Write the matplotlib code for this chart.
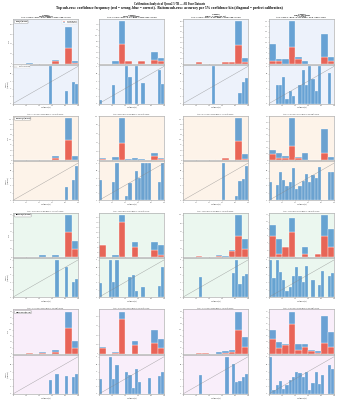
import numpy as np
import matplotlib
matplotlib.use("Agg")
import matplotlib.pyplot as plt

# ---------------- data ----------------
datasets = ["MedQA (n=200)", "MedMCQA (n=270)", "PubMedQA (n=200)", "MMLU-Med (n=218)"]
configs = ["Config 1:\nSingle Specialist",
           "Config 2:\nSingle + Two-Phase",
           "Config 3:\nMulti + 3-Agent (No JF)",
           "Config 4:\nMulti + Two-Phase\n+ 3 Agents"]
stats_medqa = ["ACC = 61.0% | ECE = 0.247 | Brier = 0.291 | conf = 83.1%",
               "ACC = 55.0% | ECE = 0.112 | Brier = 0.254 | conf = 50.2%",
               "ACC = 54.0% | ECE = 0.322 | Brier = 0.338 | conf = 85.6%",
               "ACC = 60.0% | ECE = 0.129 | Brier = 0.241 | conf = 48.4%"]
stats_medmcqa = ["ACC = 55.2% | ECE = 0.290 | Brier = 0.312 | conf = 84.3%",
                 "ACC = 65.0% | ECE = 0.126 | Brier = 0.236 | conf = 48.9%",
                 "ACC = 56.1% | ECE = 0.306 | Brier = 0.317 | conf = 86.0%",
                 "ACC = 62.2% | ECE = 0.117 | Brier = 0.229 | conf = 49.7%"]
stats_pubmedqa = ["ACC = 47.0% | ECE = 0.386 | Brier = 0.401 | conf = 86.2%",
                  "ACC = 32.0% | ECE = 0.241 | Brier = 0.297 | conf = 47.5%",
                  "ACC = 48.0% | ECE = 0.374 | Brier = 0.389 | conf = 84.9%",
                  "ACC = 41.0% | ECE = 0.153 | Brier = 0.268 | conf = 47.0%"]
stats_mmlu = ["ACC = 41.3% | ECE = 0.441 | Brier = 0.436 | conf = 85.4%",
              "ACC = 34.4% | ECE = 0.215 | Brier = 0.302 | conf = 51.2%",
              "ACC = 46.3% | ECE = 0.380 | Brier = 0.391 | conf = 84.0%",
              "ACC = 42.2% | ECE = 0.148 | Brier = 0.262 | conf = 45.3%"]

hist_bins = [0, 10, 20, 30, 40, 50, 60, 70, 80, 90]
acc_bins = [0, 5, 10, 15, 20, 25, 30, 35, 40, 45, 50, 55, 60, 65, 70, 75, 80, 85, 90, 95]

# wrong / correct counts per 10% confidence bin, one list per config
wrong_medqa = [[0, 0, 0, 0, 0, 0, 5, 0, 32, 1],
               [0, 0, 0, 70, 10, 0, 10, 0, 11, 9],
               [0, 0, 3, 0, 0, 0, 2, 3, 35, 3],
               [1, 1, 0, 8, 2, 0, 0, 0, 3, 1]]
correct_medqa = [[0, 0, 2, 0, 0, 0, 2, 0, 42, 5],
                 [0, 0, 8, 81, 0, 0, 0, 0, 30, 10],
                 [0, 0, 0, 0, 0, 0, 0, 0, 45, 7],
                 [8, 1, 2, 12, 1, 1, 0, 0, 11, 2]]
wrong_medmcqa = [[0, 0, 0, 0, 0, 0, 13, 0, 97, 0],
                 [4, 0, 0, 40, 0, 0, 0, 0, 9, 2],
                 [0, 0, 0, 0, 0, 0, 11, 3, 92, 4],
                 [10, 4, 4, 23, 4, 1, 1, 0, 12, 1]]
correct_medmcqa = [[0, 0, 0, 0, 0, 0, 6, 0, 109, 19],
                   [2, 0, 8, 56, 2, 6, 2, 0, 8, 4],
                   [0, 0, 2, 0, 0, 0, 0, 0, 114, 26],
                   [6, 8, 3, 44, 2, 11, 0, 0, 37, 5]]
wrong_pubmedqa = [[0, 0, 0, 0, 0, 0, 0, 0, 30, 9],
                  [5, 0, 0, 14, 0, 4, 0, 0, 3, 1],
                  [0, 0, 2, 0, 0, 3, 0, 14, 50, 19],
                  [6, 1, 3, 7, 0, 1, 0, 1, 6, 3]]
correct_pubmedqa = [[0, 0, 0, 0, 2, 0, 3, 0, 20, 10],
                    [0, 0, 1, 3, 0, 2, 0, 0, 3, 4],
                    [0, 0, 0, 0, 0, 2, 2, 2, 50, 23],
                    [3, 4, 0, 4, 0, 2, 0, 0, 6, 5]]
wrong_mmlu = [[0, 0, 4, 0, 4, 0, 7, 0, 109, 24],
              [6, 0, 1, 37, 0, 9, 0, 0, 12, 6],
              [0, 0, 3, 3, 0, 0, 5, 7, 100, 29],
              [12, 5, 7, 25, 3, 6, 2, 1, 9, 6]]
correct_mmlu = [[0, 0, 0, 0, 3, 0, 8, 0, 68, 28],
                [1, 0, 1, 8, 0, 5, 0, 0, 13, 10],
                [0, 0, 0, 0, 0, 7, 6, 8, 75, 40],
                [8, 5, 1, 10, 5, 2, 1, 1, 22, 12]]

# accuracy per 5% confidence bin (0 = empty bin)
acc_medqa = [[0, 0, 0, 0, 0, 0, 0, 0, 0, 0, 0, 1.0, 0, 0, 0, 0, 0.35, 0, 0.57, 0.52],
             [0.10, 0, 0, 0, 0.49, 0, 0, 0, 1.0, 0.71, 0, 1.0, 0, 0.56, 0, 0, 0, 0, 0.91, 0.53],
             [0, 0, 0, 0, 0, 0, 0, 0, 0, 1.0, 0, 0, 0, 0, 0, 0, 0, 0.28, 0.59, 0.69],
             [0, 0, 0.50, 0.50, 0.72, 0.12, 0.34, 0.21, 0, 0.50, 0.91, 0.50, 1.0, 0.67, 0.34, 1.0, 0, 0, 0.83, 0]]
acc_medmcqa = [[0, 0, 0, 0, 0, 0, 0, 0, 0, 0, 0, 0, 0, 0, 0, 0, 0.35, 0, 0.54, 0.93],
               [0.54, 0, 0, 0, 0.50, 1.0, 0, 0, 0.12, 0.46, 0, 0.79, 0.60, 1.0, 1.0, 1.0, 0, 0, 0.50, 1.0],
               [0, 0, 0, 0, 0, 0, 0, 0, 0, 0, 0, 0, 1.0, 0, 0, 0, 0.12, 0.52, 0.57, 0.93],
               [0.50, 0, 0.41, 0.76, 0.54, 0.38, 0.48, 0.86, 0.31, 0.38, 0.52, 0.70, 0.48, 0.67, 0.60, 0.90, 0, 0, 0.76, 0.76]]
acc_pubmedqa = [[0, 0, 0, 0, 0, 0, 0, 0, 0, 0, 0, 0, 0, 1.0, 0, 0, 0.80, 0, 0.42, 0.50],
                [0.39, 0, 0, 1.0, 0.42, 1.0, 0, 0, 0, 0.53, 0.60, 0.17, 0, 0.28, 0, 0, 0, 0, 0.30, 0.80],
                [0, 0, 0, 0, 0, 0.53, 0, 0, 0, 0, 0, 0, 0, 0, 0, 0.66, 1.0, 0.36, 0.56, 0.61],
                [1.0, 0.52, 1.0, 0.67, 0.47, 0.16, 0.28, 0.58, 0.80, 0.56, 0.42, 0.84, 0, 0.45, 0, 0.33, 0.70, 0, 0.56, 0.64]]
acc_mmlu = [[0, 0, 0, 0, 0, 0, 0, 0, 0, 0, 0, 0.37, 0, 0.53, 0, 0, 0.48, 0, 0.46, 0.53],
            [0.40, 0, 0, 1.0, 0.40, 0.77, 0, 0, 0.60, 0.50, 0.17, 0.67, 0.33, 0, 0, 0.42, 0, 0, 0.47, 0.60],
            [0, 0, 0, 0, 0, 0.50, 0, 0, 0, 0, 0, 0, 0, 1.0, 0, 0.80, 0.32, 0.35, 0.46, 0.53],
            [1.0, 0.11, 0.25, 0.36, 0.14, 0.25, 0.38, 0.45, 0.60, 0.55, 0.45, 0.58, 0.11, 0.30, 0.60, 0.27, 0.52, 0, 0.77, 0.68]]

all_wrong = [wrong_medqa, wrong_medmcqa, wrong_pubmedqa, wrong_mmlu]
all_correct = [correct_medqa, correct_medmcqa, correct_pubmedqa, correct_mmlu]
all_acc = [acc_medqa, acc_medmcqa, acc_pubmedqa, acc_mmlu]
all_stats = [stats_medqa, stats_medmcqa, stats_pubmedqa, stats_mmlu]

# ---------------- style ----------------
plt.rcParams["font.family"] = ["Liberation Serif", "DejaVu Serif"]

W, H = 339, 400
DPI = 20
fig = plt.figure(figsize=(W / DPI, H / DPI), dpi=DPI)
fig.patch.set_facecolor("white")

RED = "#e74c3c"
BLUE = "#3a87c8"
block_bg = ["#edf2fb", "#fdf3e9", "#ebf7ef", "#f9eefa"]

col_left = [13, 99, 183, 269]
col_w = 65
block_top0 = 19
block_pitch = 96.8
hist_h = 44.5
acc_h = 39


def px_axes(left, top, w, h):
    return fig.add_axes([left / W, 1 - (top + h) / H, w / W, h / H])


def style_axes(ax, bg):
    ax.set_facecolor(bg)
    for s in ax.spines.values():
        s.set_color("#b0b0b0")
        s.set_linewidth(2.5)
    ax.tick_params(labelsize=5.5, length=3, width=1, colors="#333333", pad=1.5)


fig.text(0.5, 1 - 4.0 / H, "Calibration Analysis of Qwen2.5-7B \u2014 All Four Datasets",
         ha="center", va="center", fontsize=10.5, fontweight="bold")
fig.text(0.5, 1 - 7.8 / H,
         "Top sub-row: confidence frequency (red = wrong, blue = correct).  "
         "Bottom sub-row: accuracy per 5% confidence bin (diagonal = perfect calibration)",
         ha="center", va="center", fontsize=13, fontweight="bold")

for d in range(4):
    top = block_top0 + block_pitch * d
    bg = block_bg[d]
    for c in range(4):
        axh = px_axes(col_left[c], top, col_w, hist_h)
        axa = px_axes(col_left[c], top + hist_h + 1, col_w, acc_h)
        style_axes(axh, bg)
        style_axes(axa, bg)

        wrong = np.array(all_wrong[d][c])
        correct = np.array(all_correct[d][c])
        axh.bar(hist_bins, wrong, width=10, align="edge", color=RED, alpha=0.85,
                edgecolor="white", linewidth=1.5, label="Wrong answer")
        axh.bar(hist_bins, correct, width=10, align="edge", bottom=wrong, color=BLUE,
                alpha=0.75, edgecolor="white", linewidth=1.5, label="Correct answer")
        axh.set_xlim(0, 100)
        axh.set_xticks([0, 20, 40, 60, 80, 100])
        axh.set_xticklabels([])
        if d == 0 and c == 0:
            axh.set_ylim(0, (wrong + correct).max() * 1.23)
            axh.legend(loc="upper right", fontsize=6, frameon=True, framealpha=0.9,
                       handlelength=1.5, borderpad=0.4, labelspacing=0.3)
        if c == 0:
            axh.set_ylabel("Count", fontsize=5.5, labelpad=2)
            axh.text(0.03, 0.96, datasets[d], transform=axh.transAxes, ha="left", va="top",
                     fontsize=6.5, fontweight="bold",
                     bbox=dict(boxstyle="round,pad=0.3", facecolor="white",
                               edgecolor="#999999", linewidth=1.5))
        if d == 0:
            axh.set_title(configs[c] + "\n" + all_stats[d][c], fontsize=7,
                          fontweight="bold", pad=2, linespacing=1.05)
        else:
            axh.set_title(all_stats[d][c], fontsize=5.5, pad=2)

        acc = np.array(all_acc[d][c])
        axa.bar(acc_bins, acc, width=5, align="edge", color=BLUE, alpha=0.75,
                edgecolor="white", linewidth=1.2)
        axa.plot([0, 100], [0, 1], color="#888888", linewidth=1.5, alpha=0.8,
                 label="Perfect calibration")
        axa.set_xlim(0, 100)
        axa.set_ylim(0, 1.05)
        axa.set_xticks([0, 20, 40, 60, 80, 100])
        axa.set_yticks([0, 0.2, 0.4, 0.6, 0.8, 1.0])
        axa.set_xlabel("Confidence (%)", fontsize=5.5, labelpad=1.5)
        if c == 0:
            axa.set_ylabel("Accuracy\n(within bin)", fontsize=5.5, labelpad=2)
        if d == 0 and c == 0:
            axa.legend(loc="upper left", fontsize=5.5, frameon=True, framealpha=0.9,
                       handlelength=2, borderpad=0.4)

fig.savefig("out.png", dpi=DPI, facecolor="white")
